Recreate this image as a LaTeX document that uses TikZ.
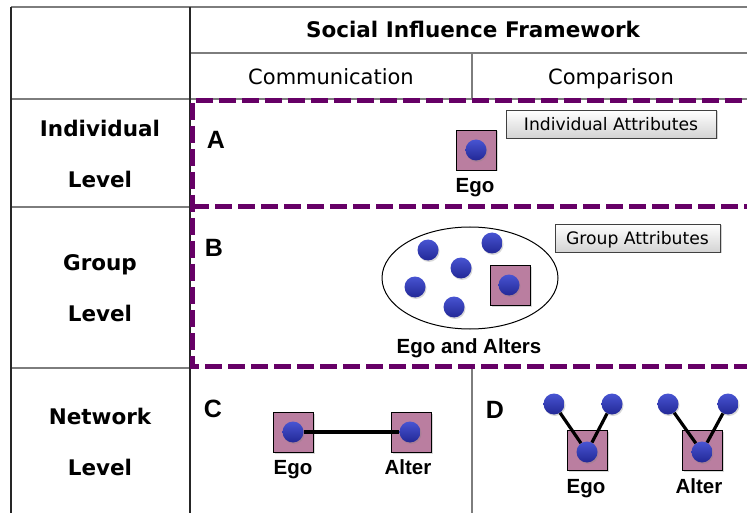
\documentclass[tikz,border=0pt]{standalone}
\usepackage{fontspec}
\setmainfont{DejaVu Sans}
\newfontfamily\arialfont{Liberation Sans}
\usetikzlibrary{shadows,shapes.geometric}

\definecolor{framepurple}{RGB}{102,0,102}
\definecolor{egofill}{RGB}{186,126,160}
\definecolor{dottop}{RGB}{72,84,210}
\definecolor{dotbot}{RGB}{34,40,150}
\definecolor{gridgray}{RGB}{125,125,125}

\tikzset{
  % centre each label on the middle of its capitals (height = cap height of its font)
  capline/.style={text height=#1, text depth=0pt},
  gridline/.style={draw=gridgray, line width=1.2pt},
  edgeline/.style={draw=black!85, line width=1.2pt},
  levellabel/.style={capline=15.7pt, font=\bfseries\fontsize{21.5}{24}\selectfont},
  headbold/.style={capline=15.7pt, font=\bfseries\fontsize{21.5}{24}\selectfont},
  headplain/.style={capline=15.3pt, font=\fontsize{21}{24}\selectfont},
  levelframe/.style={draw=framepurple, line width=5pt, dash pattern=on 17pt off 6pt},
  egobox/.style={draw=black, line width=0.9pt, fill=egofill, minimum size=40pt,
    inner sep=0pt, drop shadow={opacity=0.3, shadow xshift=1.5pt, shadow yshift=-1.5pt}},
  person/.style={circle, minimum size=21pt, inner sep=0pt, top color=dottop,
    bottom color=dotbot, drop shadow={opacity=0.3, shadow xshift=1pt, shadow yshift=-1.5pt}},
  tie/.style={draw=black, line width=3.2pt},
  attrbox/.style={capline=12.5pt, draw=black!75, line width=0.8pt, top color=white,
    bottom color=black!17, minimum height=28pt, inner xsep=6pt,
    font=\fontsize{17.2}{20}\selectfont,
    drop shadow={opacity=0.35, shadow xshift=1.5pt, shadow yshift=-1.5pt}},
  panel/.style={capline=17.9pt, font=\arialfont\bfseries\fontsize{25}{27}\selectfont},
  caption/.style={capline=14.7pt, font=\arialfont\bfseries\fontsize{20.5}{23}\selectfont},
  group/.style={draw=black, line width=1pt, ellipse, fill=white, inner sep=0pt},
}

\begin{document}
\begin{tikzpicture}[x=1pt, y=-1pt]
  \useasboundingbox (0,0) rectangle (747,513);
  \fill[white] (0,0) rectangle (747,513);

  % table grid
  \draw[gridline] (11,7) -- (760,7);
  \draw[gridline] (190,53) -- (760,53);
  \draw[gridline] (11,99) -- (760,99);
  \draw[gridline] (11,207) -- (190,207);
  \draw[gridline] (11,368) -- (190,368);
  \draw[edgeline] (11,7) -- (11,520);
  \draw[edgeline] (190,7) -- (190,520);
  \draw[gridline] (472,53) -- (472,99);
  \draw[gridline] (472,368) -- (472,520);

  % header texts
  \node[headbold] (title) at (473,30) {Social Influence Framework};
  \node[headplain] (comm) at (331,77) {Communication};
  \node[headplain] (comp) at (611,77) {Comparison};

  % row labels
  \node[levellabel] (indiv) at (100,129) {Individual};
  \node[levellabel] (indivlvl) at (100,180) {Level};
  \node[levellabel] (grp) at (100,263) {Group};
  \node[levellabel] (grplvl) at (100,314) {Level};
  \node[levellabel] (net) at (100,417) {Network};
  \node[levellabel] (netlvl) at (100,468) {Level};

  % dashed frames around the individual and group rows
  \draw[levelframe] (765,101) -- (192,101) -- (192,366) -- (765,366);
  \draw[levelframe] (192,207) -- (765,207);

  % panel A
  \node[panel] (pa) at (216,140) {A};
  \node[egobox] (egoA) at (476,150) {};
  \node[person] (dotA) at (476,150) {};
  \node[caption] (capA) at (475,185) {Ego};
  \node[attrbox, minimum width=210pt] (indattr) at (611,124) {Individual Attributes};

  % panel B
  \node[panel] (pb) at (214,248) {B};
  \node[group, minimum width=176pt, minimum height=102pt] (crowd) at (470,278) {};
  \node[person] (b1) at (428,250) {};
  \node[person] (b2) at (492,243) {};
  \node[person] (b3) at (461,268) {};
  \node[person] (b4) at (415,287) {};
  \node[person] (b5) at (454,307) {};
  \node[egobox] (egoB) at (510,285) {};
  \node[person] (dotB) at (509,285) {};
  \node[caption] (capB) at (469,346) {Ego and Alters};
  \node[attrbox, minimum width=165pt] (grpattr) at (637.5,238) {Group Attributes};

  % panel C
  \node[panel] (pc) at (213,409) {C};
  \node[egobox] (egoC) at (293,432) {};
  \node[egobox] (altC) at (411,432) {};
  \node[person] (dotC1) at (293,432) {};
  \node[person] (dotC2) at (410,432) {};
  \draw[tie] (dotC1) -- (dotC2);
  \node[caption] (capC1) at (293,467) {Ego};
  \node[caption] (capC2) at (408,467) {Alter};

  % panel D
  \node[panel] (pd) at (495,410) {D};
  \node[egobox] (egoD) at (587,450) {};
  \node[person] (dotD) at (587,452) {};
  \node[person] (d1) at (554,404) {};
  \node[person] (d2) at (612,404) {};
  \draw[tie] (d1) -- (dotD);
  \draw[tie] (d2) -- (dotD);
  \node[caption] (capD1) at (586,486) {Ego};

  \node[egobox] (altD) at (702,450) {};
  \node[person] (dotE) at (702,452) {};
  \node[person] (e1) at (668,404) {};
  \node[person] (e2) at (728,404) {};
  \draw[tie] (e1) -- (dotE);
  \draw[tie] (e2) -- (dotE);
  \node[caption] (capD2) at (699,486) {Alter};
\end{tikzpicture}
\end{document}
